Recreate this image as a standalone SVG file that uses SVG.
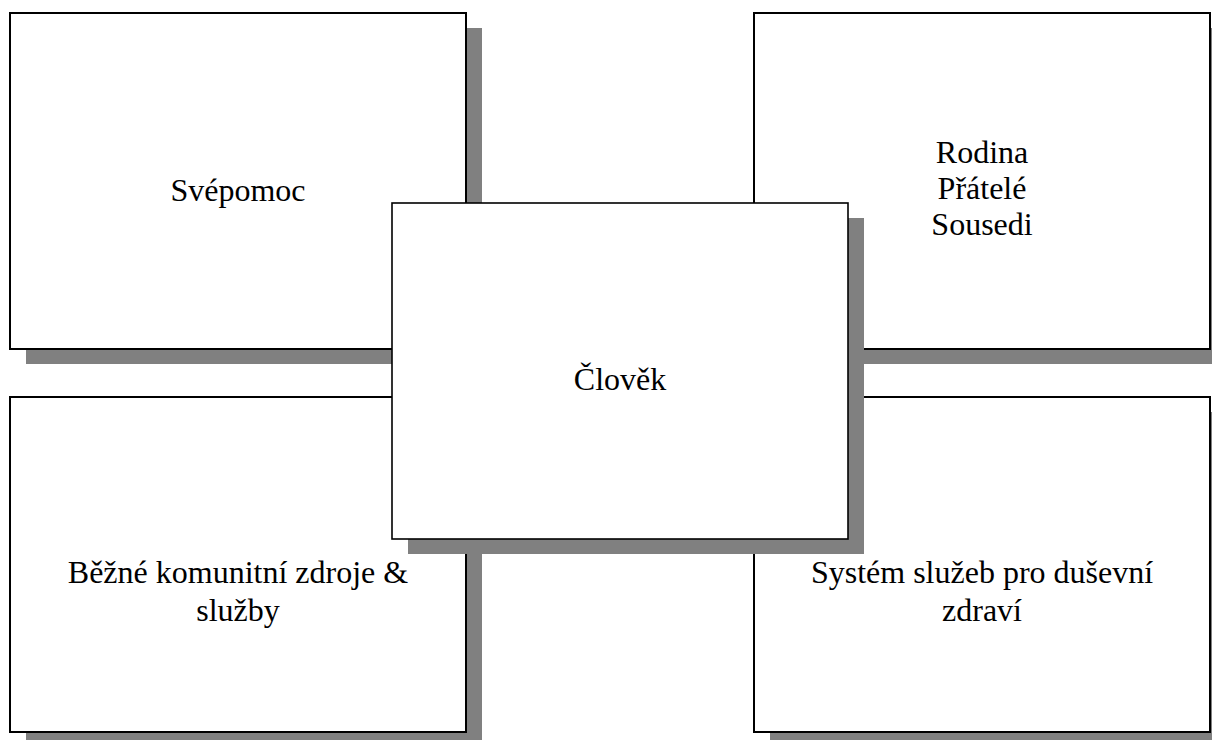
<svg xmlns="http://www.w3.org/2000/svg" width="1212" height="740" viewBox="0 0 1212 740">
<style>
.shadow{fill:#808080;stroke:none}
.box{fill:#ffffff;stroke:#000000;stroke-width:2}
.ctr{fill:#ffffff;stroke:#000000;stroke-width:1.6}
.t{font-family:'Liberation Serif','Times New Roman','DejaVu Serif',serif;font-size:32px;fill:#000000;text-anchor:middle}
</style>
<rect width="1212" height="740" fill="#ffffff"/>
<g id="node-svepomoc">
<rect class="shadow" x="26" y="28" width="456" height="336"/>
<rect class="box" x="10" y="13" width="456" height="336"/>
<text class="t" font-family="Liberation Serif, serif" x="238" y="201">Svépomoc</text>
</g>
<g id="node-rodina">
<rect class="shadow" x="770" y="28" width="456" height="336"/>
<rect class="box" x="754" y="13" width="456" height="336"/>
<text class="t" font-family="Liberation Serif, serif" x="982" y="163">Rodina</text>
<text class="t" font-family="Liberation Serif, serif" x="982" y="199">Přátelé</text>
<text class="t" font-family="Liberation Serif, serif" x="982" y="235">Sousedi</text>
</g>
<g id="node-bezne">
<rect class="shadow" x="26" y="412" width="456" height="336"/>
<rect class="box" x="10" y="397" width="456" height="335"/>
<text class="t" font-family="Liberation Serif, serif" x="238" y="583">Běžné komunitní zdroje &amp;</text>
<text class="t" font-family="Liberation Serif, serif" x="238" y="621">služby</text>
</g>
<g id="node-system">
<rect class="shadow" x="770" y="412" width="456" height="336"/>
<rect class="box" x="754" y="397" width="456" height="335"/>
<text class="t" font-family="Liberation Serif, serif" x="982" y="583">Systém služeb pro duševní</text>
<text class="t" font-family="Liberation Serif, serif" x="982" y="621">zdraví</text>
</g>
<g id="node-clovek">
<rect class="shadow" x="408" y="218" width="456" height="336"/>
<rect class="ctr" x="392" y="203" width="456" height="336"/>
<text class="t" font-family="Liberation Serif, serif" x="620" y="390">Člověk</text>
</g>
<g id="connectors"/>
</svg>
